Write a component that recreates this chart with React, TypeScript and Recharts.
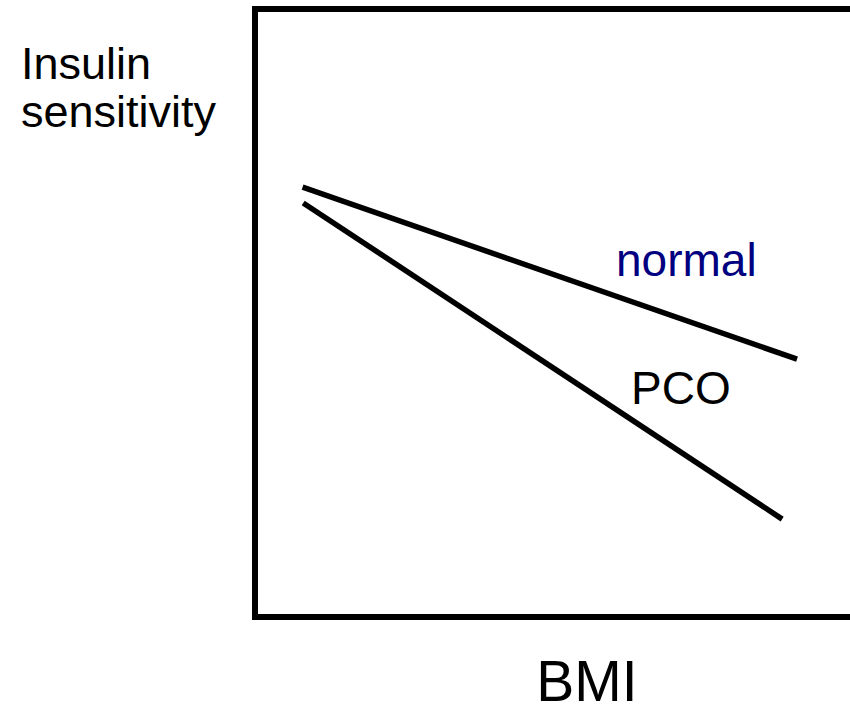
import React from "react";
import { LineChart, Line, XAxis, YAxis, ReferenceLine } from "recharts";

const normalSeries = [
  { bmi: 8.0, sens: 70.7 },
  { bmi: 91.1, sens: 42.4 },
];
const pcoSeries = [
  { bmi: 8.1, sens: 68.1 },
  { bmi: 88.6, sens: 16.1 },
];
const xTitle = "BMI";
const yTitleLines = ["Insulin", "sensitivity"];
const seriesNames = ["normal", "PCO"];

const FONT = "'Liberation Sans', Arial, Helvetica, sans-serif";

export default function App() {
  return (
    <div style={{ position: "absolute", left: 0, top: 0 }}>
      <LineChart
        width={850}
        height={713}
        margin={{ top: 9, right: 0, bottom: 0, left: 0 }}
      >
        <XAxis
          type="number"
          dataKey="bmi"
          domain={[0, 100]}
          allowDataOverflow
          tick={false}
          tickLine={false}
          height={96}
          axisLine={{ stroke: "#000", strokeWidth: 6, strokeLinecap: "square" }}
        />
        <YAxis
          type="number"
          dataKey="sens"
          domain={[0, 100]}
          allowDataOverflow
          tick={false}
          tickLine={false}
          width={255}
          axisLine={{ stroke: "#000", strokeWidth: 6, strokeLinecap: "square" }}
        />
        <ReferenceLine y={100} stroke="#000" strokeWidth={6} />
        <Line
          data={normalSeries}
          dataKey="sens"
          stroke="#000"
          strokeWidth={5.5}
          dot={false}
          isAnimationActive={false}
          type="linear"
        />
        <Line
          data={pcoSeries}
          dataKey="sens"
          stroke="#000"
          strokeWidth={5.5}
          dot={false}
          isAnimationActive={false}
          type="linear"
        />
        <text x={21} y={79} fontFamily={FONT} fontSize={45} fill="#000">
          {yTitleLines[0]}
        </text>
        <text x={21} y={127} fontFamily={FONT} fontSize={45} fill="#000">
          {yTitleLines[1]}
        </text>
        <text x={587} y={701} fontFamily={FONT} fontSize={57} fill="#000" textAnchor="middle">
          {xTitle}
        </text>
        <text x={616} y={276} fontFamily={FONT} fontSize={46} fill="#000080">
          {seriesNames[0]}
        </text>
        <text x={631} y={404} fontFamily={FONT} fontSize={46} fill="#000">
          {seriesNames[1]}
        </text>
      </LineChart>
    </div>
  );
}
